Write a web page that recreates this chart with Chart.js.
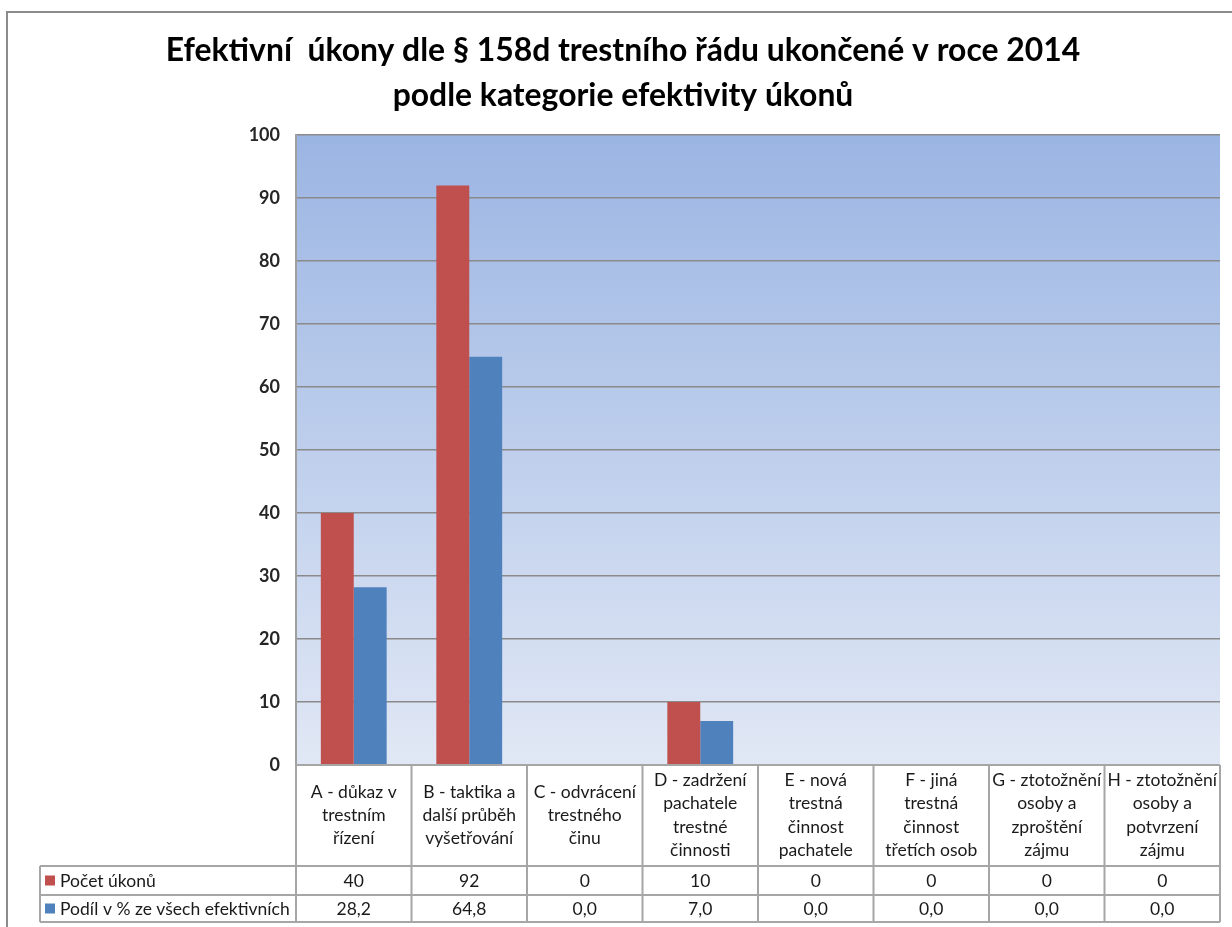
<!DOCTYPE html>
<html><head><meta charset="utf-8">
<script src="https://cdn.jsdelivr.net/npm/chart.js@4/dist/chart.umd.min.js"></script>
<style>html,body{margin:0;padding:0;background:#fff}#wrap{width:1232px;height:927px;position:relative}</style>
</head><body><div id="wrap"><canvas id="c" width="1232" height="927"></canvas></div>
<script>
const titleLines = ["Efektivní  úkony dle § 158d trestního řádu ukončené v roce 2014", "podle kategorie efektivity úkonů"];
const categories = [
  ["A - důkaz v", "trestním", "řízení"],
  ["B - taktika a", "další průběh", "vyšetřování"],
  ["C - odvrácení", "trestného", "činu"],
  ["D - zadržení", "pachatele", "trestné", "činnosti"],
  ["E - nová", "trestná", "činnost", "pachatele"],
  ["F - jiná", "trestná", "činnost", "třetích osob"],
  ["G - ztotožnění", "osoby a", "zproštění", "zájmu"],
  ["H - ztotožnění", "osoby a", "potvrzení", "zájmu"]
];
const seriesNames = ["Počet úkonů", "Podíl v % ze všech efektivních"];
const countValues = [40, 92, 0, 10, 0, 0, 0, 0];
const shareValues = [28.2, 64.8, 0.0, 7.0, 0.0, 0.0, 0.0, 0.0];
const countLabels = ["40", "92", "0", "10", "0", "0", "0", "0"];
const shareLabels = ["28,2", "64,8", "0,0", "7,0", "0,0", "0,0", "0,0", "0,0"];
const yMin = 0, yMax = 100, yStep = 10;

const FONT = "Lato, 'Open Sans', sans-serif";
const seriesColors = ["#c0504d", "#4f81bd"];

const tablePlugin = {
  id: 'tablePlugin',
  beforeDraw(chart) {
    const ctx = chart.ctx, a = chart.chartArea;
    ctx.save();
    ctx.fillStyle = '#ffffff';
    ctx.fillRect(0, 0, chart.width, chart.height);
    ctx.strokeStyle = '#8c8c8c';
    ctx.lineWidth = 2;
    ctx.beginPath();
    ctx.moveTo(7, chart.height); ctx.lineTo(7, 12); ctx.lineTo(chart.width, 12);
    ctx.stroke();
    const g = ctx.createLinearGradient(0, a.top, 0, a.bottom);
    g.addColorStop(0, '#9bb5e3');
    g.addColorStop(1, '#e1e8f5');
    ctx.fillStyle = g;
    ctx.fillRect(a.left, a.top, a.right - a.left, a.bottom - a.top);
    ctx.restore();
  },
  afterDraw(chart) {
    const ctx = chart.ctx, a = chart.chartArea, xs = chart.scales.x;
    ctx.save();
    ctx.fillStyle = '#000';
    ctx.textAlign = 'center';
    ctx.textBaseline = 'middle';
    ctx.font = `bold 100px ${FONT}`;
    const w = ctx.measureText(titleLines[0]).width;
    const size = 100 * 915 / w;
    ctx.font = `bold ${size}px ${FONT}`;
    ctx.fillText(titleLines[0], 623, 51);
    ctx.fillText(titleLines[1], 623, 96);

    const n = categories.length;
    const cw = (a.right - a.left) / n;
    const headTop = a.bottom, headBot = 866, r1Bot = 895, r2Bot = 922, labelLeft = 40;
    ctx.strokeStyle = '#a6a6a6';
    ctx.lineWidth = 2;
    ctx.beginPath();
    ctx.moveTo(a.left, headTop); ctx.lineTo(a.right, headTop);
    [headBot, r1Bot, r2Bot].forEach(y => { ctx.moveTo(labelLeft, y); ctx.lineTo(a.right, y); });
    ctx.moveTo(labelLeft, headBot); ctx.lineTo(labelLeft, r2Bot);
    for (let i = 0; i <= n; i++) {
      const x = i < n ? xs.getPixelForValue(i) - cw / 2 : xs.getPixelForValue(n - 1) + cw / 2;
      ctx.moveTo(x, headTop); ctx.lineTo(x, r2Bot);
    }
    ctx.stroke();

    ctx.font = `17.5px ${FONT}`;
    ctx.fillStyle = '#1a1a1a';
    const lh = 23.3, cy = (headTop + headBot) / 2;
    categories.forEach((lines, i) => {
      const x = xs.getPixelForValue(i);
      const y0 = cy - (lines.length - 1) * lh / 2;
      lines.forEach((t, k) => ctx.fillText(t, x, y0 + k * lh));
      ctx.fillText(countLabels[i], x, (headBot + r1Bot) / 2 + 1);
      ctx.fillText(shareLabels[i], x, (r1Bot + r2Bot) / 2 + 1);
    });
    ctx.textAlign = 'left';
    [(headBot + r1Bot) / 2, (r1Bot + r2Bot) / 2].forEach((y, k) => {
      ctx.fillStyle = seriesColors[k];
      ctx.fillRect(45, y - 5, 10, 10);
      ctx.fillStyle = '#1a1a1a';
      ctx.fillText(seriesNames[k], 60, y + 1);
    });
    ctx.restore();
  }
};

new Chart(document.getElementById('c'), {
  type: 'bar',
  data: {
    labels: categories,
    datasets: [
      { label: seriesNames[0], data: countValues, backgroundColor: seriesColors[0] },
      { label: seriesNames[1], data: shareValues, backgroundColor: seriesColors[1] }
    ]
  },
  options: {
    responsive: false,
    animation: false,
    devicePixelRatio: 1,
    layout: { padding: { top: 135, bottom: 162, left: 0, right: 12 } },
    plugins: { legend: { display: false }, title: { display: false }, tooltip: { enabled: false } },
    datasets: { bar: { categoryPercentage: 0.57, barPercentage: 1.0 } },
    scales: {
      x: { display: false },
      y: {
        min: yMin, max: yMax,
        ticks: { stepSize: yStep, padding: 16, color: '#262626', font: { family: FONT, size: 18, weight: 'bold' } },
        grid: { color: '#8a8a8a', lineWidth: 1.5, drawTicks: false },
        border: { color: '#a0a0a0', width: 2 },
        afterFit(scale) { scale.width = 296; }
      }
    }
  },
  plugins: [tablePlugin]
});
</script>
</body></html>
